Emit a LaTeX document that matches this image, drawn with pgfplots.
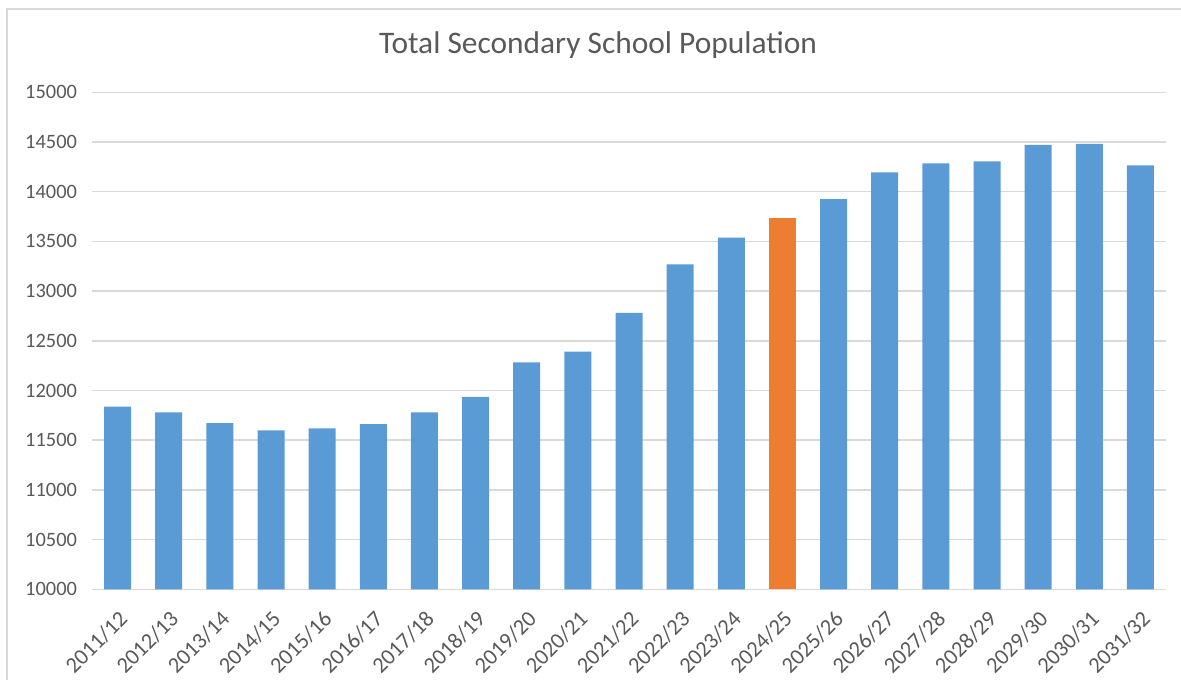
\documentclass[border=0pt]{standalone}
\usepackage{pgfplots}
\pgfplotsset{compat=1.18}
\usepackage{fontspec}
\setmainfont{Carlito}
\definecolor{barblue}{HTML}{5B9BD5}
\definecolor{barorange}{HTML}{ED7D31}
\definecolor{txtgray}{HTML}{595959}
\definecolor{gridgray}{HTML}{D9D9D9}
\begin{document}
\begin{tikzpicture}
\useasboundingbox (0,0) rectangle (590.5pt,340pt);
\draw[gridgray, line width=0.8pt] (3.5pt,0pt) -- (3.5pt,335.5pt) -- (590.5pt,335.5pt);
\node[txtgray, font=\fontsize{15.7}{18}\selectfont] at (299pt,317.5pt) {Total Secondary School Population};
\begin{axis}[
  at={(46pt,45.35pt)}, anchor=south west,
  scale only axis, width=537pt, height=248.5pt,
  ymin=10000, ymax=15000, ytick={10000,10500,...,15000},
  scaled y ticks=false,
  yticklabel={\pgfmathprintnumber[fixed,precision=0,1000 sep={}]{\tick}},
  xmin=-0.5, xmax=20.5,
  xtick={0,...,20},
  xticklabels={2011/12,2012/13,2013/14,2014/15,2015/16,2016/17,2017/18,2018/19,2019/20,2020/21,2021/22,2022/23,2023/24,2024/25,2025/26,2026/27,2027/28,2028/29,2029/30,2030/31,2031/32},
  /pgf/number format/assume math mode=true,
  /pgf/number format/1000 sep={},
  ymajorgrids, grid style={gridgray, line width=0.75pt},
  axis x line*=bottom, axis y line*=left,
  x axis line style={gridgray, line width=0.75pt, -},
  y axis line style={draw=none},
  major tick length=0pt,
  tick label style={txtgray},
  yticklabel style={font=\fontsize{10.2}{12}\selectfont, xshift=-4pt},
  xticklabel style={font=\fontsize{11.2}{12}\selectfont, xshift=0pt, yshift=-8.5pt, rotate=45, anchor=north east, inner sep=1pt},
  ybar, bar width=13.5pt, bar shift=0pt,
  clip=false,
]
\addplot[fill=barblue, draw=none] coordinates {
(0,11837) (1,11781) (2,11673) (3,11600) (4,11620) (5,11663) (6,11781) (7,11935)
(8,12284) (9,12390) (10,12780) (11,13270) (12,13537)
(14,13926) (15,14195) (16,14286) (17,14306) (18,14470) (19,14480) (20,14266)};
\addplot[fill=barorange, draw=none] coordinates {(13,13732)};
\end{axis}
\end{tikzpicture}
\end{document}
